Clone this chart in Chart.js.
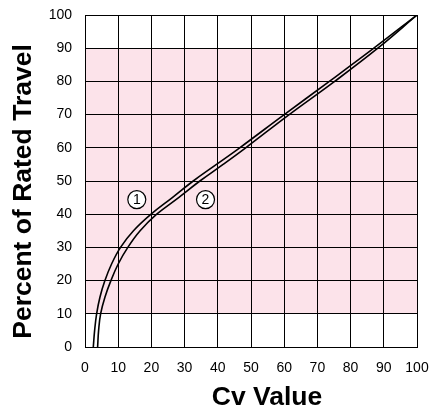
<!DOCTYPE html>
<html><head><meta charset="utf-8">
<script src="https://cdn.jsdelivr.net/npm/chart.js@4/dist/chart.umd.min.js"></script>
<style>html,body{margin:0;padding:0;background:#fff}#wrap{width:433px;height:409px}</style>
</head><body><div id="wrap"><canvas id="c" width="433" height="409"></canvas></div>
<script>
const travel1 = [0, 5, 10, 15, 20, 25, 30, 35, 40, 45, 50, 55, 60, 70, 80, 90, 100];
const cv1     = [2.5, 2.9, 3.5, 4.5, 6.0, 8.0, 10.7, 14.6, 19.9, 26.3, 32.6, 39.6, 46.6, 60, 73.6, 87.0, 100];
const travel2 = [0, 5, 10, 15, 20, 25, 30, 35, 40, 45, 50, 55, 60, 70, 80, 90, 100];
const cv2     = [3.8, 4.1, 4.7, 6.0, 7.8, 10.0, 12.9, 16.6, 21.6, 28.2, 34.6, 41.6, 48.4, 61.5, 75.2, 88.2, 100];
const curveLabels = ["1", "2"];
const labelX = [15.6, 36.3];
const labelY = [44.4, 44.4];
const bandRange = [10, 90];
const xTitle = 'Cv Value';
const yTitle = 'Percent of Rated Travel';

const FONT = '"Liberation Sans", Arial, sans-serif';

const bandPlugin = {
  id: 'band',
  beforeDraw(chart) {
    const {ctx, chartArea, scales} = chart;
    const y1 = scales.y.getPixelForValue(bandRange[1]);
    const y0 = scales.y.getPixelForValue(bandRange[0]);
    ctx.save();
    ctx.fillStyle = '#fce3ea';
    ctx.fillRect(chartArea.left, y1, chartArea.right - chartArea.left, y0 - y1);
    ctx.restore();
  }
};
const labelPlugin = {
  id: 'circLabels',
  afterDatasetsDraw(chart) {
    const {ctx, scales} = chart;
    ctx.save();
    curveLabels.forEach((t, i) => {
      const px = scales.x.getPixelForValue(labelX[i]);
      const py = scales.y.getPixelForValue(labelY[i]);
      ctx.beginPath();
      ctx.arc(px, py, 9, 0, Math.PI * 2);
      ctx.fillStyle = '#fff';
      ctx.fill();
      ctx.lineWidth = 1.2;
      ctx.strokeStyle = '#000';
      ctx.stroke();
      ctx.fillStyle = '#000';
      ctx.font = '14px ' + FONT;
      ctx.textAlign = 'center';
      ctx.textBaseline = 'middle';
      ctx.fillText(t, px, py + 0.5);
    });
    ctx.restore();
  }
};
const titlePlugin = {
  id: 'axisTitles',
  afterDraw(chart) {
    const {ctx, chartArea} = chart;
    ctx.save();
    ctx.fillStyle = '#000';
    ctx.font = 'bold 26.5px ' + FONT;
    ctx.textAlign = 'center';
    ctx.textBaseline = 'alphabetic';
    ctx.fillText(xTitle, (chartArea.left + chartArea.right) / 2 + 16, 405);
    ctx.translate(31, (chartArea.top + chartArea.bottom) / 2 + 10.5);
    ctx.rotate(-Math.PI / 2);
    ctx.fillText(yTitle, 0, 0);
    ctx.restore();
  }
};

const mk = (xs, ys) => xs.map((x, i) => ({x: x, y: ys[i]}));
const tickFont = {family: FONT, size: 14};
const noPad = s => { s.paddingTop = 0; s.paddingBottom = 0; s.paddingLeft = 0; s.paddingRight = 0; };

new Chart(document.getElementById('c'), {
  type: 'scatter',
  data: {
    datasets: [
      {data: mk(cv1, travel1), showLine: true, borderColor: '#000', borderWidth: 1.6, pointRadius: 0, tension: 0.4},
      {data: mk(cv2, travel2), showLine: true, borderColor: '#000', borderWidth: 1.6, pointRadius: 0, tension: 0.4}
    ]
  },
  options: {
    responsive: false,
    animation: false,
    devicePixelRatio: 1,
    layout: {autoPadding: false, padding: {top: 15, right: 16, left: 0, bottom: 0}},
    plugins: {legend: {display: false}, tooltip: {enabled: false}},
    scales: {
      x: {
        type: 'linear', min: 0, max: 100,
        ticks: {stepSize: 10, font: tickFont, color: '#000', padding: 13, maxRotation: 0},
        grid: {color: '#000', lineWidth: 1, drawTicks: false},
        border: {color: '#000', width: 1},
        afterFit(s) { s.height = 62; noPad(s); }
      },
      y: {
        type: 'linear', min: 0, max: 100,
        ticks: {stepSize: 10, font: tickFont, color: '#000', padding: 13},
        grid: {color: '#000', lineWidth: 1, drawTicks: false},
        border: {color: '#000', width: 1},
        afterFit(s) { s.width = 85; noPad(s); }
      }
    }
  },
  plugins: [bandPlugin, labelPlugin, titlePlugin]
});
</script></body></html>
